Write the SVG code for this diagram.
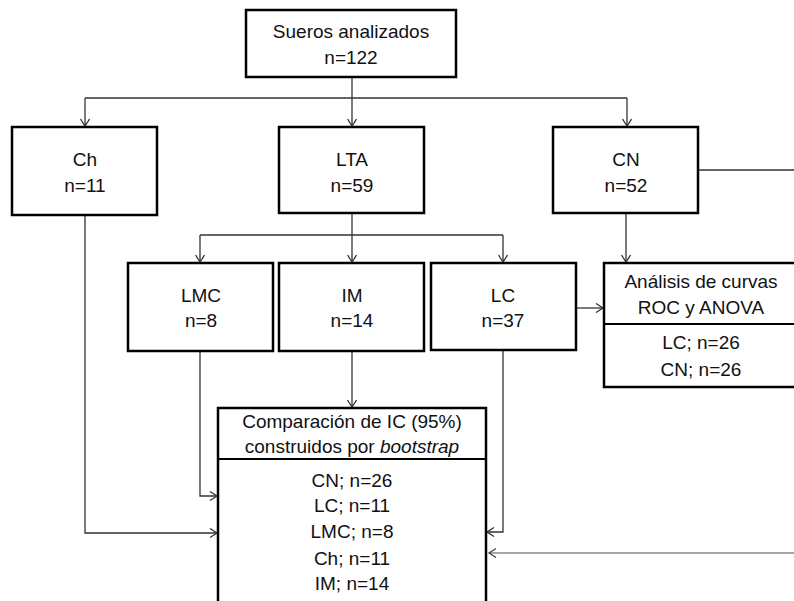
<svg xmlns="http://www.w3.org/2000/svg" width="794" height="601" viewBox="0 0 794 601">
<style>
.box{fill:#fff;stroke:#000;stroke-width:2.5}
.div{stroke:#000;stroke-width:2}
.t{font-family:"Liberation Sans",Arial,sans-serif;font-size:19px;fill:#111;text-anchor:middle}
.c{fill:none;stroke:#333;stroke-width:1.3}
.g{fill:none;stroke:#888;stroke-width:1.3}
</style>
<defs>
<marker id="ar" markerUnits="userSpaceOnUse" markerWidth="12" markerHeight="12" refX="8" refY="5" orient="auto">
<path d="M1,0.5 L8,5 L1,9.5" fill="none" stroke="#333" stroke-width="1.3"/>
</marker>
<marker id="arg" markerUnits="userSpaceOnUse" markerWidth="12" markerHeight="12" refX="8" refY="5" orient="auto">
<path d="M1,0.5 L8,5 L1,9.5" fill="none" stroke="#444" stroke-width="1.3"/>
</marker>
</defs>
<rect width="794" height="601" fill="#fff"/>
<g id="connectors">
<path class="c" d="M352,77 V126" marker-end="url(#ar)"/>
<path class="c" d="M85,98 H627"/>
<path class="c" d="M85,98 V126" marker-end="url(#ar)"/>
<path class="c" d="M627,98 V126" marker-end="url(#ar)"/>
<path class="c" d="M352,213 V262" marker-end="url(#ar)"/>
<path class="c" d="M200,235 H503"/>
<path class="c" d="M200,235 V262" marker-end="url(#ar)"/>
<path class="c" d="M503,235 V262" marker-end="url(#ar)"/>
<path class="c" d="M626,213 V262" marker-end="url(#ar)"/>
<path class="c" d="M698,170 H800"/>
<path class="c" d="M576,308 H603" marker-end="url(#ar)"/>
<path class="c" d="M85,215 V533 H217" marker-end="url(#ar)"/>
<path class="c" d="M200,351 V496 H217" marker-end="url(#ar)"/>
<path class="c" d="M352,351 V407" marker-end="url(#ar)"/>
<path class="c" d="M503,350 V532 H487" marker-end="url(#ar)"/>
<path class="g" d="M800,553 H489" marker-end="url(#arg)"/>
</g>
<g id="sueros">
<rect class="box" x="246" y="10" width="210" height="67"/>
<text class="t" x="351" y="38">Sueros analizados</text>
<text class="t" x="351" y="64">n=122</text>
</g>
<g id="ch">
<rect class="box" x="12" y="127" width="145" height="88"/>
<text class="t" x="85" y="166">Ch</text>
<text class="t" x="85" y="192">n=11</text>
</g>
<g id="lta">
<rect class="box" x="279" y="127" width="145" height="86"/>
<text class="t" x="352" y="166">LTA</text>
<text class="t" x="352" y="192">n=59</text>
</g>
<g id="cn">
<rect class="box" x="553" y="127" width="145" height="86"/>
<text class="t" x="626" y="166">CN</text>
<text class="t" x="626" y="192">n=52</text>
</g>
<g id="lmc">
<rect class="box" x="128" y="263" width="145" height="88"/>
<text class="t" x="201" y="302">LMC</text>
<text class="t" x="201" y="327">n=8</text>
</g>
<g id="im">
<rect class="box" x="279" y="263" width="145" height="88"/>
<text class="t" x="352" y="302">IM</text>
<text class="t" x="352" y="327">n=14</text>
</g>
<g id="lc">
<rect class="box" x="431" y="263" width="145" height="87"/>
<text class="t" x="503" y="302">LC</text>
<text class="t" x="503" y="327">n=37</text>
</g>
<g id="analisis">
<rect class="box" x="604" y="263" width="200" height="124"/>
<line class="div" x1="604" y1="324" x2="800" y2="324"/>
<text class="t" x="701" y="288">Análisis de curvas</text>
<text class="t" x="701" y="314">ROC y ANOVA</text>
<text class="t" x="701" y="349">LC; n=26</text>
<text class="t" x="701" y="376">CN; n=26</text>
</g>
<g id="comparacion">
<rect class="box" x="218" y="408" width="268" height="210"/>
<line class="div" x1="218" y1="459" x2="486" y2="459"/>
<text class="t" x="352" y="428">Comparación de IC (95%)</text>
<text class="t" x="352" y="453">construidos por <tspan font-style="italic">bootstrap</tspan></text>
<text class="t" x="352" y="487">CN; n=26</text>
<text class="t" x="352" y="512">LC; n=11</text>
<text class="t" x="352" y="538">LMC; n=8</text>
<text class="t" x="352" y="565">Ch; n=11</text>
<text class="t" x="352" y="590">IM; n=14</text>
</g>
</svg>
